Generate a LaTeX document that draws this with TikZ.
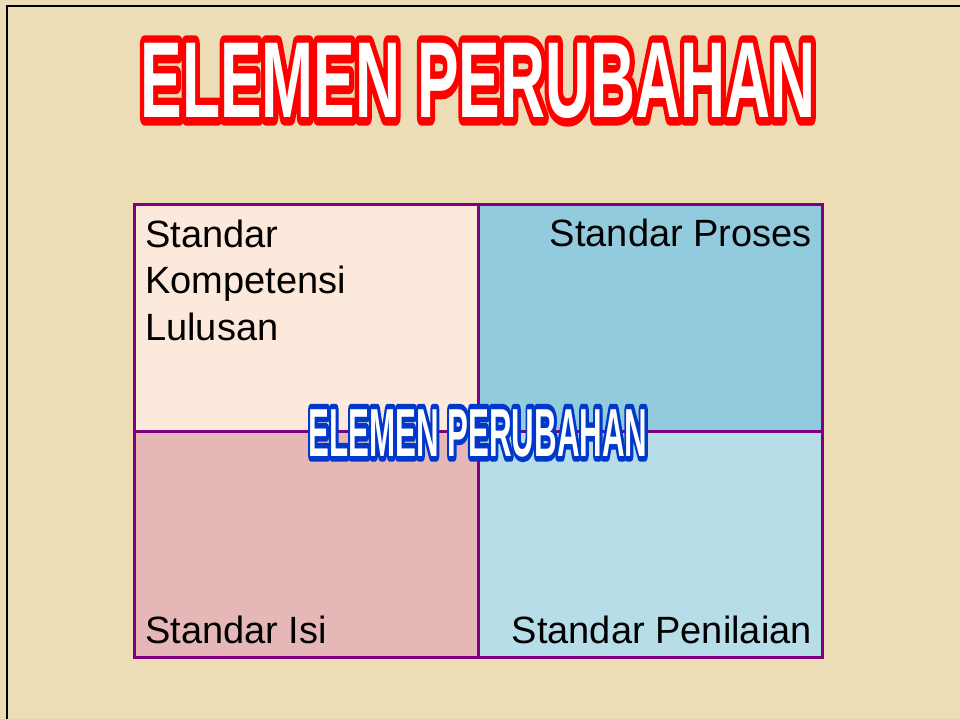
\documentclass[tikz,border=0pt]{standalone}
\usepackage{fontspec}
\setmainfont{Liberation Sans}
\usetikzlibrary{positioning,calc}

\definecolor{bgtan}{RGB}{236,221,183}
\definecolor{gridpurple}{RGB}{128,0,128}
\definecolor{qpeach}{RGB}{252,233,220}
\definecolor{qblue}{RGB}{146,203,222}
\definecolor{qpink}{RGB}{229,184,183}
\definecolor{qlight}{RGB}{183,221,232}
\definecolor{ttlred}{RGB}{255,0,0}
\definecolor{ttlblue}{RGB}{0,56,204}

% stroked copy of a word, drawn under the white one
\newcommand\strokedword[2]{\special{pdf:literal direct #1 w 1 j 2 Tr}#2\special{pdf:literal direct 0 Tr 1 w}}

\begin{document}
\begin{tikzpicture}[
  x=1pt, y=-1pt,
  quad/.style={draw=gridpurple, line width=3pt, minimum width=344pt, minimum height=226pt, inner sep=0pt, outer sep=0pt, anchor=north west},
  lbl/.style={inner sep=0pt, font=\fontsize{38}{46.5}\selectfont, align=left},
  bigttl/.style={inner sep=0pt, font=\fontsize{108}{108}\selectfont\bfseries},
  midttl/.style={inner sep=0pt, font=\fontsize{68}{68}\selectfont\bfseries}
]
  % page and frame
  \fill[bgtan] (0,0) rectangle (960,719);
  \useasboundingbox (0,0) rectangle (960,719);
  \draw[line width=2.5pt] (7,719) -- (7,6) -- (960,6);

  % heading
  \node[bigttl, text=ttlred] (titleline) at (478,81) {\scalebox{0.577}[1]{\strokedword{16}{ELEMEN PERUBAHAN}}};
  \node[bigttl, text=white] (title) at (478,81) {\scalebox{0.577}[1]{ELEMEN PERUBAHAN}};

  % four quadrants
  \node[quad, fill=qpeach] (skl) at (134,205) {};
  \node[quad, fill=qblue] (proses) at (skl.north east) {};
  \node[quad, fill=qpink] (isi) at (skl.south west) {};
  \node[quad, fill=qlight] (nilai) at (skl.south east) {};

  \node[lbl, anchor=base west] (skltxt) at (145,340) {Standar\\Kompetensi\\Lulusan};
  \node[lbl, anchor=base east] (prosestxt) at (812,247) {Standar Proses};
  \node[lbl, anchor=base west] (isitxt) at (145,643) {Standar Isi};
  \node[lbl, anchor=base east] (nilaitxt) at (812,643) {Standar Penilaian};

  % centre label
  \node[midttl, text=ttlblue] (centreline) at (478,433) {\scalebox{0.46}[1]{\strokedword{11}{ELEMEN PERUBAHAN}}};
  \node[midttl, text=white] (centre) at (478,433) {\scalebox{0.46}[1]{ELEMEN PERUBAHAN}};
\end{tikzpicture}
\end{document}
